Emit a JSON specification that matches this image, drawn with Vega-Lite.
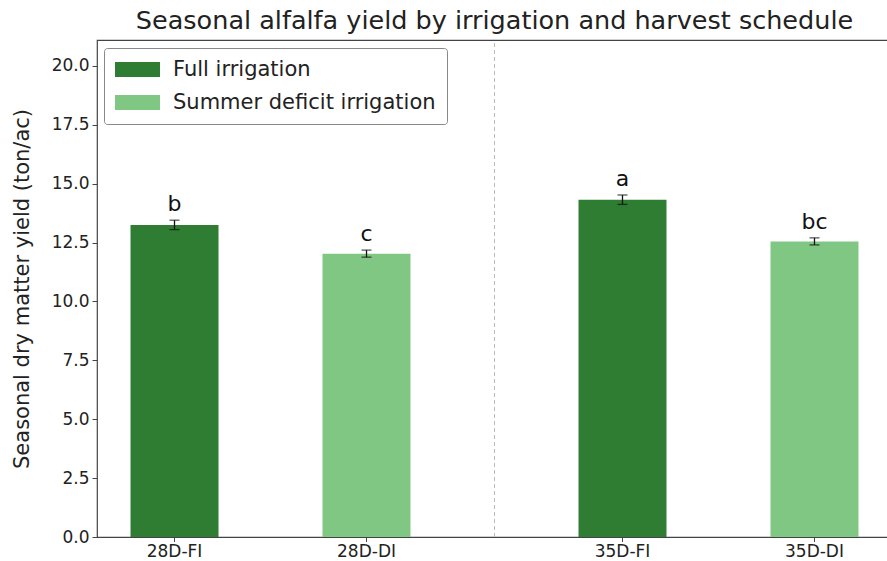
{
  "$schema": "https://vega.github.io/schema/vega-lite/v6.json",
  "autosize": {"type": "none"},
  "padding": {"left": 97, "top": 40, "right": 0, "bottom": 24},
  "width": 795,
  "height": 497,
  "config": {
    "font": "DejaVu Sans",
    "view": {"stroke": "#444", "strokeWidth": 1.2},
    "axis": {"grid": false, "labelFont": "DejaVu Sans", "titleFont": "DejaVu Sans", "labelColor": "#222", "titleColor": "#222", "domain": false, "tickColor": "#444"}
  },
  "title": {"text": "Seasonal alfalfa yield by irrigation and harvest schedule", "fontSize": 25.5, "fontWeight": "normal", "color": "#222", "anchor": "middle", "offset": 5},
  "data": {"values": [
    {"schedule": "28D", "irrigation": "Full irrigation", "label": "28D-FI", "yield": 13.25, "err": 0.2, "letter": "b"},
    {"schedule": "28D", "irrigation": "Summer deficit irrigation", "label": "28D-DI", "yield": 12.03, "err": 0.15, "letter": "c"},
    {"schedule": "35D", "irrigation": "Full irrigation", "label": "35D-FI", "yield": 14.32, "err": 0.2, "letter": "a"},
    {"schedule": "35D", "irrigation": "Summer deficit irrigation", "label": "35D-DI", "yield": 12.55, "err": 0.15, "letter": "bc"}
  ]},
  "encoding": {
    "x": {"field": "schedule", "type": "nominal", "scale": {"paddingInner": 0.375, "paddingOuter": 0.0748}, "axis": null},
    "xOffset": {"field": "irrigation", "type": "nominal", "scale": {"paddingInner": 0.5417, "paddingOuter": 0}}
  },
  "layer": [
    {
      "mark": {"type": "bar"},
      "encoding": {
        "y": {"field": "yield", "type": "quantitative", "scale": {"domain": [0, 21.1], "nice": false}, "title": "Seasonal dry matter yield (ton/ac)", "axis": {"values": [0, 2.5, 5, 7.5, 10, 12.5, 15, 17.5, 20], "format": ".1f", "labelFontSize": 17, "tickSize": 5, "labelPadding": 3, "titleFontSize": 21, "titleFontWeight": "normal", "titlePadding": 19}},
        "color": {"field": "irrigation", "type": "nominal", "scale": {"domain": ["Full irrigation", "Summer deficit irrigation"], "range": ["#2e7d32", "#81c784"]}, "legend": {"orient": "none", "legendX": 7, "legendY": 8, "title": null, "labelFontSize": 21, "labelLimit": 0, "labelColor": "#222", "symbolType": "M-3,-1H3V1H-3Z", "symbolSize": 225, "symbolOpacity": 1, "symbolStrokeWidth": 0, "symbolOffset": 12, "rowPadding": 11, "padding": 11, "strokeColor": "#888", "fillColor": "white", "cornerRadius": 3, "labelOffset": 25}}
      }
    },
    {
      "mark": {"type": "errorbar", "ticks": {"size": 10, "color": "#111"}, "color": "#111", "thickness": 1.3},
      "encoding": {
        "y": {"field": "yield", "type": "quantitative", "title": "Seasonal dry matter yield (ton/ac)"},
        "yError": {"field": "err"}
      }
    },
    {
      "transform": [{"calculate": "datum.yield + datum.err", "as": "top"}],
      "mark": {"type": "text", "fontSize": 22, "baseline": "bottom", "dy": -4, "color": "#111"},
      "encoding": {
        "y": {"field": "top", "type": "quantitative", "title": "Seasonal dry matter yield (ton/ac)"},
        "text": {"field": "letter"}
      }
    },
    {
      "mark": {"type": "text", "fontSize": 17, "baseline": "top", "dy": 7, "color": "#222"},
      "encoding": {
        "y": {"datum": 0},
        "text": {"field": "label"}
      }
    },
    {
      "mark": {"type": "rule", "color": "#444"},
      "encoding": {
        "y": {"datum": 0},
        "y2": {"datum": -0.21}
      }
    },
    {
      "data": {"values": [{"schedule": "28D"}]},
      "mark": {"type": "rule", "color": "#bbb", "strokeDash": [4, 3], "strokeWidth": 1},
      "encoding": {
        "x": {"field": "schedule", "type": "nominal", "bandPosition": 1.3},
        "xOffset": null,
        "y": {"datum": 0},
        "y2": {"datum": 21.1}
      }
    }
  ]
}
